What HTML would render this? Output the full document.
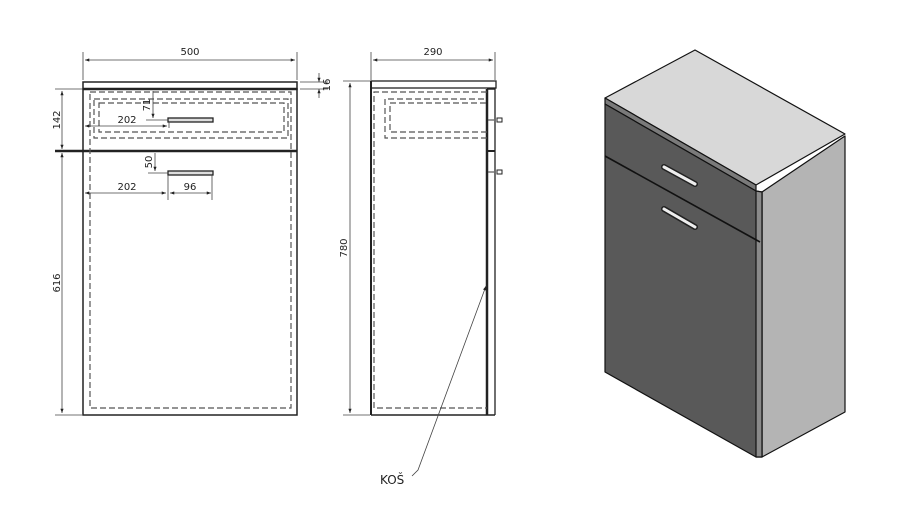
<!DOCTYPE html>
<html><head><meta charset="utf-8"><style>
html,body{margin:0;padding:0;background:#fff;width:900px;height:520px;overflow:hidden}
svg{display:block}
text{font-family:"DejaVu Sans","Liberation Sans",sans-serif;font-size:10px;fill:#222}
</style></head><body>
<svg width="900" height="520" viewBox="0 0 900 520" xmlns="http://www.w3.org/2000/svg">
<defs>
<marker id="a" viewBox="0 0 8 6" refX="8" refY="3" markerWidth="6" markerHeight="4" orient="auto-start-reverse"><path d="M0,0L8,3L0,6z" fill="#222"/></marker>
</defs>
<g fill="none" stroke="#222">
<!-- FRONT VIEW -->
<rect x="83" y="82" width="214" height="7" stroke-width="1.5"/>
<line x1="83" y1="89" x2="297" y2="89" stroke-width="2.5"/>
<rect x="83" y="89" width="214" height="326" stroke-width="1.5"/>
<line x1="55" y1="151" x2="297" y2="151" stroke-width="2.5"/>
<g stroke="#555" stroke-dasharray="6,3" stroke-width="1.2">
<rect x="90" y="92" width="201" height="316"/>
<rect x="94" y="99" width="194" height="39"/>
<rect x="99" y="103" width="185" height="29"/>
</g>
<rect x="168" y="118" width="45" height="4" fill="#ddd" stroke-width="1.3"/>
<rect x="168" y="171" width="45" height="4" fill="#ddd" stroke-width="1.3"/>
<!-- dims -->
<g stroke="#444" stroke-width="0.8">
<line x1="83" y1="52" x2="83" y2="80"/><line x1="297" y1="52" x2="297" y2="80"/>
<line x1="85" y1="60" x2="295" y2="60" marker-start="url(#a)" marker-end="url(#a)"/>
<line x1="300" y1="82" x2="328" y2="82"/><line x1="300" y1="89" x2="328" y2="89"/>
<line x1="319" y1="73" x2="319" y2="82" marker-end="url(#a)"/><line x1="319" y1="98" x2="319" y2="89" marker-end="url(#a)"/>
<line x1="55" y1="89" x2="82" y2="89"/>
<line x1="62" y1="91" x2="62" y2="149" marker-start="url(#a)" marker-end="url(#a)"/>
<line x1="62" y1="153" x2="62" y2="413" marker-start="url(#a)" marker-end="url(#a)"/>
<line x1="55" y1="415" x2="82" y2="415"/>
<line x1="153" y1="91" x2="153" y2="118" marker-end="url(#a)"/><line x1="146" y1="120" x2="168" y2="120"/>
<line x1="85" y1="126" x2="167" y2="126" marker-start="url(#a)" marker-end="url(#a)"/><line x1="169" y1="122" x2="169" y2="128"/>
<line x1="155" y1="153" x2="155" y2="171" marker-end="url(#a)"/><line x1="148" y1="173" x2="168" y2="173"/>
<line x1="85" y1="193" x2="166" y2="193" marker-start="url(#a)" marker-end="url(#a)"/>
<line x1="170" y1="193" x2="211" y2="193" marker-start="url(#a)" marker-end="url(#a)"/>
<line x1="168" y1="175" x2="168" y2="200"/><line x1="212" y1="175" x2="212" y2="200"/>
</g>
<!-- SIDE VIEW -->
<rect x="371" y="81" width="125" height="7" stroke-width="1.3" fill="none"/>
<line x1="371" y1="81" x2="371" y2="415" stroke-width="2"/>
<line x1="371" y1="415" x2="495" y2="415" stroke-width="1.5"/>
<line x1="487" y1="89" x2="487" y2="415" stroke-width="2.5"/>
<line x1="495" y1="88" x2="495" y2="415" stroke-width="1.3"/>
<line x1="487" y1="89" x2="495" y2="89" stroke-width="1.5"/>
<line x1="487" y1="151" x2="495" y2="151" stroke-width="2"/>
<g stroke="#555" stroke-dasharray="6,3" stroke-width="1.2">
<polyline points="487,92 374,92 374,408 487,408"/>
<polyline points="487,138 385,138 385,99 487,99"/>
<polyline points="487,132 390,132 390,103 487,103"/>
<line x1="488" y1="120" x2="497" y2="120"/><line x1="488" y1="172" x2="497" y2="172"/>
</g>
<rect x="497" y="118" width="5" height="4" stroke-width="1"/>
<rect x="497" y="170" width="5" height="4" stroke-width="1"/>
<g stroke="#444" stroke-width="0.8">
<line x1="371" y1="52" x2="371" y2="80"/><line x1="495" y1="52" x2="495" y2="80"/>
<line x1="373" y1="60" x2="493" y2="60" marker-start="url(#a)" marker-end="url(#a)"/>
<line x1="343" y1="81" x2="370" y2="81"/><line x1="343" y1="415" x2="370" y2="415"/>
<line x1="350" y1="83" x2="350" y2="413" marker-start="url(#a)" marker-end="url(#a)"/>
<polyline points="412,476 418,470 486,286" marker-end="url(#a)"/>
</g>
</g>
<text x="190" y="55" text-anchor="middle">500</text>
<text x="433" y="55" text-anchor="middle">290</text>
<text transform="translate(330,85) rotate(-90)" text-anchor="middle">16</text>
<text transform="translate(60,120) rotate(-90)" text-anchor="middle">142</text>
<text transform="translate(60,283) rotate(-90)" text-anchor="middle">616</text>
<text transform="translate(347,248) rotate(-90)" text-anchor="middle">780</text>
<text transform="translate(150,105) rotate(-90)" text-anchor="middle">71</text>
<text transform="translate(152,162) rotate(-90)" text-anchor="middle">50</text>
<text x="127" y="123" text-anchor="middle">202</text>
<text x="127" y="190" text-anchor="middle">202</text>
<text x="190" y="190" text-anchor="middle">96</text>
<text x="380" y="484" style="font-size:12px">KOŠ</text>
<!-- ISO VIEW -->
<g stroke="#111" stroke-width="1.2" stroke-linejoin="round">
<polygon points="762,192 845,136 845,412 762,457" fill="#b4b4b4"/>
<polygon points="605,98 695,50 845,134 756,185" fill="#d8d8d8"/>
<polygon points="605,98 756,185 756,191 605,104" fill="#7a7a7a"/>
<polygon points="605,104 756,191 762,192 762,457 756,457 605,372" fill="#595959"/>
<polygon points="756,191 762,192 762,457 756,457" fill="#8a8a8a"/>
<line x1="605" y1="156" x2="760" y2="242" stroke-width="1.6"/>
</g>
<g stroke-linecap="round">
<line x1="664" y1="167" x2="695" y2="184" stroke="#222" stroke-width="6"/>
<line x1="664" y1="167" x2="695" y2="184" stroke="#eee" stroke-width="3"/>
<line x1="664" y1="209" x2="695" y2="227" stroke="#222" stroke-width="6"/>
<line x1="664" y1="209" x2="695" y2="227" stroke="#eee" stroke-width="3"/>
</g>
</svg>
</body></html>
